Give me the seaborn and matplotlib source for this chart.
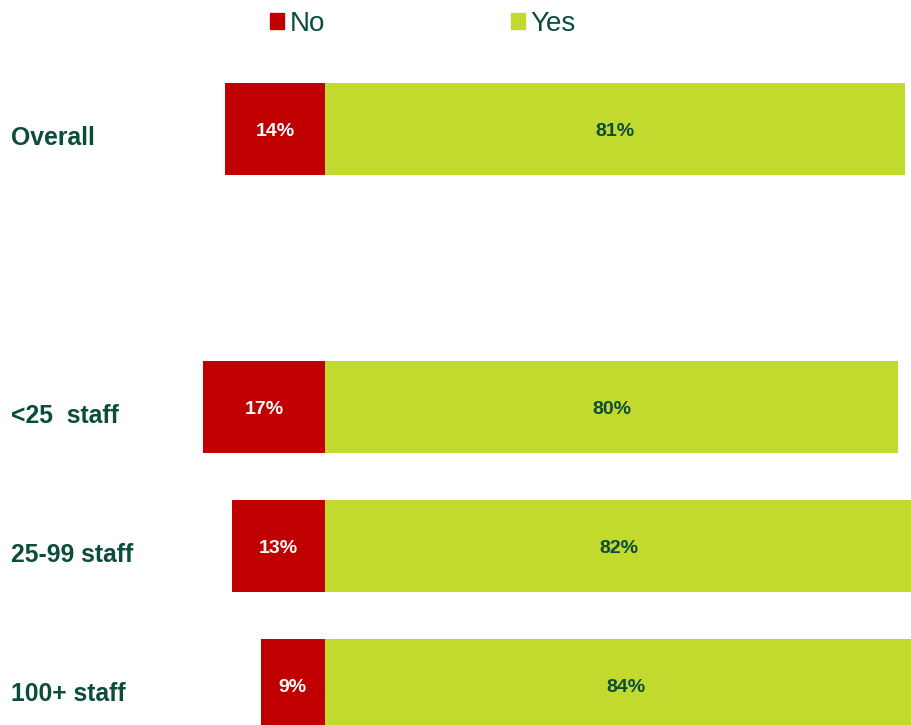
import matplotlib
matplotlib.use("Agg")
import matplotlib.pyplot as plt
from matplotlib.patches import Patch
import seaborn as sns
import pandas as pd

# data
groups = ["Overall", "<25  staff", "25-99 staff", "100+ staff"]
no_pct = [14, 17, 13, 9]
yes_pct = [81, 80, 82, 84]
order = ["Overall", " ", "<25  staff", "25-99 staff", "100+ staff"]

RED = "#C00000"
GREEN = "#C2D92E"
DARK = "#0B4D3B"

sns.set_theme(style="white")
plt.rcParams["font.family"] = ["Liberation Sans", "DejaVu Sans"]

df = pd.DataFrame({"group": groups, "No": [-v for v in no_pct], "Yes": yes_pct})

fig = plt.figure(figsize=(9.11, 7.25), dpi=100)
ax = fig.add_axes([0, 0, 1, 1])

sns.barplot(data=df, y="group", x="No", order=order, color=RED,
            width=0.66, saturation=1, linewidth=0, ax=ax)
sns.barplot(data=df, y="group", x="Yes", order=order, color=GREEN,
            width=0.66, saturation=1, linewidth=0, ax=ax)

ax.set_xlim(-45.4, 81.8)
ax.set_ylim(4.288, -0.928)
ax.set_xlabel("")
ax.set_ylabel("")
ax.set_xticks([])
ax.set_yticks([])
for s in ax.spines.values():
    s.set_visible(False)

# value labels
for i, g in enumerate(groups):
    pos = order.index(g)
    ax.text(-no_pct[i] / 2, pos + 0.02, f"{no_pct[i]}%", color="white",
            fontsize=14, fontweight="bold", ha="center", va="center")
    ax.text(yes_pct[i] / 2, pos + 0.02, f"{yes_pct[i]}%", color=DARK,
            fontsize=14, fontweight="bold", ha="center", va="center")
    # category labels on the left
    ax.text(0.012, pos + 0.065, g, color=DARK, fontsize=17.8, fontweight="bold",
            ha="left", va="center", transform=ax.get_yaxis_transform())

handles = [Patch(color=RED, label="No"), Patch(color=GREEN, label="Yes")]
fig.legend(handles=handles, loc="upper left", bbox_to_anchor=(0.269, 1.019),
           ncol=2, frameon=False, fontsize=20, handlelength=0.5,
           handleheight=0.5, handletextpad=0.2, columnspacing=6.7,
           labelcolor=DARK)

fig.savefig("out.png", dpi=100)
